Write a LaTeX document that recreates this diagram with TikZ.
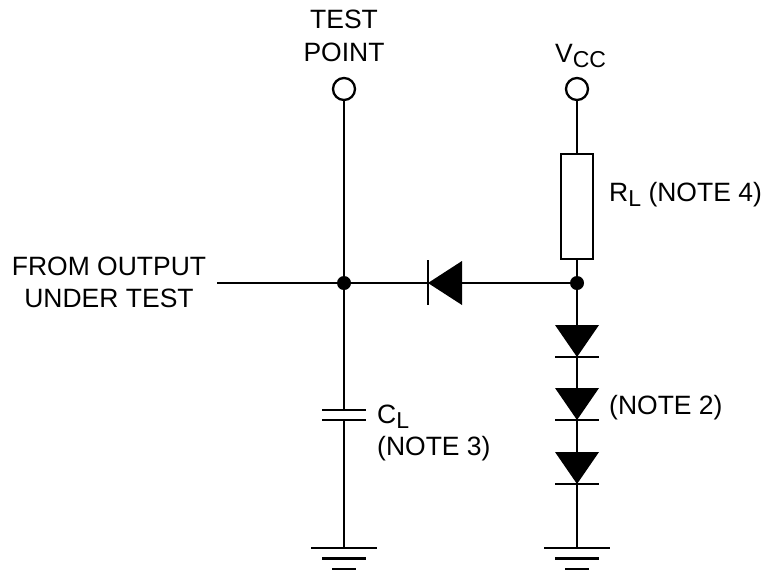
\documentclass[tikz,border=0pt]{standalone}
\usepackage{fontspec}
\setmainfont{Liberation Sans}
\tikzset{
  wire/.style={line width=2.5pt,black},
  term/.style={circle,draw=black,line width=2.3pt,fill=white,minimum size=22pt,inner sep=0pt},
  junction/.style={circle,fill=black,minimum size=14pt,inner sep=0pt},
  res/.style={rectangle,draw=black,line width=2.5pt,fill=white,minimum width=32pt,minimum height=105pt,inner sep=0pt},
  lbl/.style={font=\fontsize{26.5}{30}\selectfont,inner sep=0pt,text=black}
}
\newcommand{\subs}[1]{\raisebox{-0.2em}{\fontsize{23}{26}\selectfont #1}}
\begin{document}
\begin{tikzpicture}[x=1pt,y=-1pt]
\useasboundingbox (0,0) rectangle (767,571);
% terminals and junctions
\node[term] (tp) at (344,89) {};
\node[term] (vcc) at (577,89) {};
\node[res] (rl) at (577,206.5) {};
\node[junction] (j1) at (344,283) {};
\node[junction] (j2) at (577,283) {};
\coordinate (in) at (217,283);
% diode cathodes / anodes
\coordinate (hk) at (428,283);
\coordinate (ha) at (462,283);
\coordinate (a1) at (577,325);
\coordinate (k1) at (577,357);
\coordinate (a2) at (577,388);
\coordinate (k2) at (577,420);
\coordinate (a3) at (577,452);
\coordinate (k3) at (577,484);
\coordinate (c1) at (344,410);
\coordinate (c2) at (344,420);
\coordinate (g1) at (344,548);
\coordinate (g2) at (577,548);
% wires
\draw[wire] (tp) -- (j1);
\draw[wire] (j1) -- (c1);
\draw[wire] (c2) -- (g1);
\draw[wire] (in) -- (j1);
\draw[wire] (j1) -- (hk);
\draw[wire] (ha) -- (j2);
\draw[wire] (vcc) -- (rl);
\draw[wire] (rl) -- (j2);
\draw[wire] (j2) -- (a1);
\draw[wire] (k1) -- (a2);
\draw[wire] (k2) -- (a3);
\draw[wire] (k3) -- (g2);
% horizontal diode
\fill[black] (hk) -- (462,261) -- (462,305) -- cycle;
\draw[wire] (428,260) -- (428,305);
% series diodes
\foreach \a/\k in {a1/k1,a2/k2,a3/k3}{
  \fill[black] (\k) -- ([xshift=-22pt]\a) -- ([xshift=22pt]\a) -- cycle;
  \draw[wire] ([xshift=-22pt]\k) -- ([xshift=22pt]\k);
}
% capacitor
\draw[wire] ([xshift=-22pt]c1) -- ([xshift=22pt]c1);
\draw[wire] ([xshift=-22pt]c2) -- ([xshift=22pt]c2);
% grounds
\foreach \g in {g1,g2}{
  \draw[wire] ([xshift=-33pt]\g) -- ([xshift=33pt]\g);
  \draw[wire] ([xshift=-22pt,yshift=-10.5pt]\g) -- ([xshift=22pt,yshift=-10.5pt]\g);
  \draw[wire] ([xshift=-12pt,yshift=-21pt]\g) -- ([xshift=12pt,yshift=-21pt]\g);
}
% labels
\node[lbl,anchor=base] (t1) at (344,28) {TEST};
\node[lbl,anchor=base] (t2) at (344,61) {POINT};
\node[lbl,anchor=base west] (t3) at (555,62) {V\subs{CC}};
\node[lbl,anchor=base west] (t4) at (609,201) {R\subs{L} (NOTE 4)};
\node[lbl,anchor=base] (t5) at (109,275) {FROM OUTPUT};
\node[lbl,anchor=base] (t6) at (109,307) {UNDER TEST};
\node[lbl,anchor=base west] (t7) at (377,423) {C\subs{L}};
\node[lbl,anchor=base west] (t8) at (377,455) {(NOTE 3)};
\node[lbl,anchor=base west] (t9) at (609,414) {(NOTE 2)};
\end{tikzpicture}
\end{document}
